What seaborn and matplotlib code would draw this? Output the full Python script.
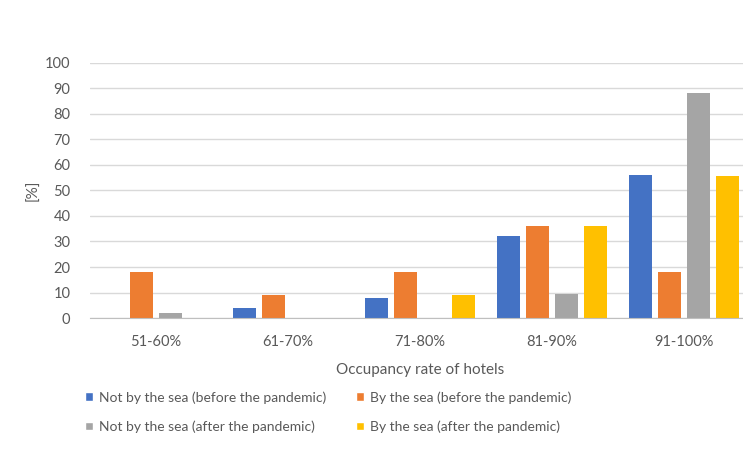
import pandas as pd
import seaborn as sns
from matplotlib import pyplot as plt

# dane
categories = ['51-60%', '61-70%', '71-80%', '81-90%', '91-100%']
series = ['Not by the sea (before the pandemic)', 'By the sea (before the pandemic)',
          'Not by the sea (after the pandemic)', 'By the sea (after the pandemic)']
not_sea_before = [0, 4, 8, 32, 56]
sea_before = [18, 9, 18, 36, 18]
not_sea_after = [2, 0, 0, 9.5, 88]
sea_after = [0, 0, 9, 36, 55.5]
colors = ['#4472C4', '#ED7D31', '#A5A5A5', '#FFC000']

df = pd.DataFrame({'Occupancy': categories * 4,
                   'Series': [s for s in series for _ in categories],
                   'Value': not_sea_before + sea_before + not_sea_after + sea_after})

sns.set_style('white')
plt.rcParams['font.family'] = ['Lato', 'DejaVu Sans']

fig = plt.figure(figsize=(7.43, 4.65), dpi=100)
# os wychodzi troche poza obraz z prawej (jak w oryginale)
ax = fig.add_axes([0.121, 0.316, 0.888, 0.549])
sns.barplot(data=df, x='Occupancy', y='Value', hue='Series', palette=colors,
            width=0.88, saturation=1, ax=ax, legend=True)

# wezsze slupki
for p in ax.patches:
    w = p.get_width()
    if w > 0:
        p.set_x(p.get_x() + w * 0.105)
        p.set_width(w * 0.79)
        p.set_edgecolor('none')

ax.set_ylim(0, 100)
ax.set_yticks(range(0, 101, 10))
ax.yaxis.grid(True, color='#D9D9D9', linewidth=1)
ax.set_axisbelow(True)
for s in ['top', 'right', 'left']:
    ax.spines[s].set_visible(False)
ax.spines['bottom'].set_color('#BFBFBF')
ax.tick_params(axis='both', colors='#595959', labelsize=10.5, length=0)
ax.tick_params(axis='y', pad=14)
ax.tick_params(axis='x', pad=12)
ax.set_xlabel('Occupancy rate of hotels', color='#595959', fontsize=11, labelpad=10)
ax.set_ylabel('[%]', color='#595959', fontsize=11, labelpad=3)

handles, labels = ax.get_legend_handles_labels()
ax.get_legend().remove()
order = [0, 2, 1, 3]
fig.legend([handles[i] for i in order], [labels[i] for i in order], ncol=2,
           loc='upper left', bbox_to_anchor=(0.098, 0.186),
           frameon=False, fontsize=10, labelcolor='#595959', handlelength=0.55,
           handleheight=0.55, handletextpad=0.4, columnspacing=2.2, labelspacing=1.2)

fig.savefig('out.png', dpi=100)
